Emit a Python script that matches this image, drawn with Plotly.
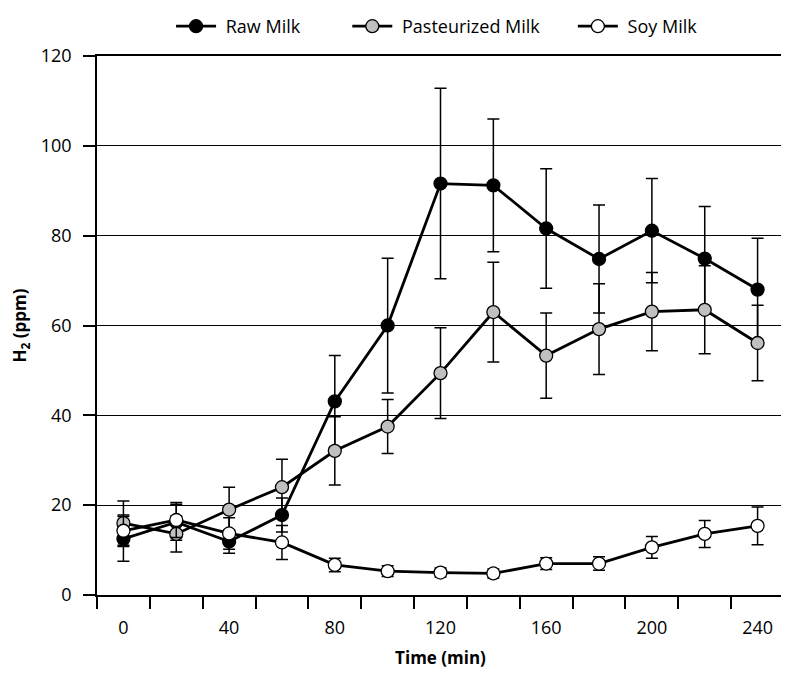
import plotly.graph_objects as go

time_min = [0, 20, 40, 60, 80, 100, 120, 140, 160, 180, 200, 220, 240]
x_tick_labels = ["0", "40", "80", "120", "160", "200", "240"]
x_tick_vals = [0, 40, 80, 120, 160, 200, 240]

raw_milk = [12.5, 16.2, 11.9, 17.8, 43.1, 60.0, 91.6, 91.2, 81.6, 74.8, 81.1, 74.9, 68.0]
raw_err = [5.0, 4.0, 2.6, 3.8, 10.2, 15.0, 21.2, 14.8, 13.3, 12.0, 11.6, 11.6, 11.4]

past_milk = [16.0, 13.6, 19.0, 24.0, 32.1, 37.5, 49.4, 63.0, 53.3, 59.2, 63.1, 63.5, 56.1]
past_err = [4.9, 4.0, 5.0, 6.2, 7.6, 6.0, 10.1, 11.1, 9.5, 10.1, 8.7, 9.8, 8.4]

soy_milk = [14.3, 16.7, 13.7, 11.7, 6.7, 5.3, 5.0, 4.8, 7.0, 7.0, 10.6, 13.6, 15.4]
soy_err = [3.5, 3.9, 3.5, 3.8, 1.5, 1.2, 1.0, 1.0, 1.3, 1.5, 2.4, 3.0, 4.2]

FONT = "Open Sans"
NB = "\u00a0"

fig = go.Figure()

def add(name, y, err, fill):
    fig.add_trace(go.Scatter(
        x=time_min, y=y, name=name, mode="lines+markers",
        line=dict(color="black", width=2.8),
        marker=dict(size=13, color=fill, line=dict(color="black", width=1.3)),
        error_y=dict(type="data", array=err, visible=True, color="black",
                     thickness=1.5, width=6),
    ))

add(NB + "Raw Milk" + NB * 9, raw_milk, raw_err, "black")
add(NB + "Pasteurized Milk" + NB * 6, past_milk, past_err, "#c0c0c0")
add(NB + "Soy Milk", soy_milk, soy_err, "white")

# page body has an 8px margin: figure sized so that the plot lands where the reference has it
fig.update_layout(
    width=781, height=676,
    margin=dict(l=89, r=5, t=48, b=89, autoexpand=False),
    paper_bgcolor="white", plot_bgcolor="white",
    font=dict(family=FONT, size=18, color="black"),
    showlegend=True,
    legend=dict(orientation="h", x=0.495, xanchor="center", y=1.0, yanchor="top",
                yref="container", font=dict(size=18, family=FONT),
                itemwidth=40, traceorder="normal"),
    xaxis=dict(
        range=[-10, 250], tickvals=x_tick_vals, ticktext=x_tick_labels,
        ticks="", showgrid=False, zeroline=False,
        showline=True, linecolor="black", linewidth=1.5, mirror=True,
        ticklabelstandoff=16,
        minor=dict(tick0=-10, dtick=20, ticks="outside", ticklen=12,
                   tickcolor="black", tickwidth=1.5, showgrid=False),
        title=dict(text="<b>Time (min)</b>", font=dict(size=17, family=FONT), standoff=14),
    ),
    yaxis=dict(
        range=[0, 120], dtick=20, ticks="outside", ticklen=12, tickwidth=1.5,
        tickcolor="black", showgrid=True, gridcolor="black", gridwidth=1.3,
        zeroline=False, showline=True, linecolor="black", linewidth=1.5, mirror=True,
        ticklabelstandoff=8,
        title=dict(text="<b>H<sub>2</sub> (ppm)</b>", font=dict(size=17, family=FONT), standoff=16),
    ),
)

fig.write_html("out.html")
